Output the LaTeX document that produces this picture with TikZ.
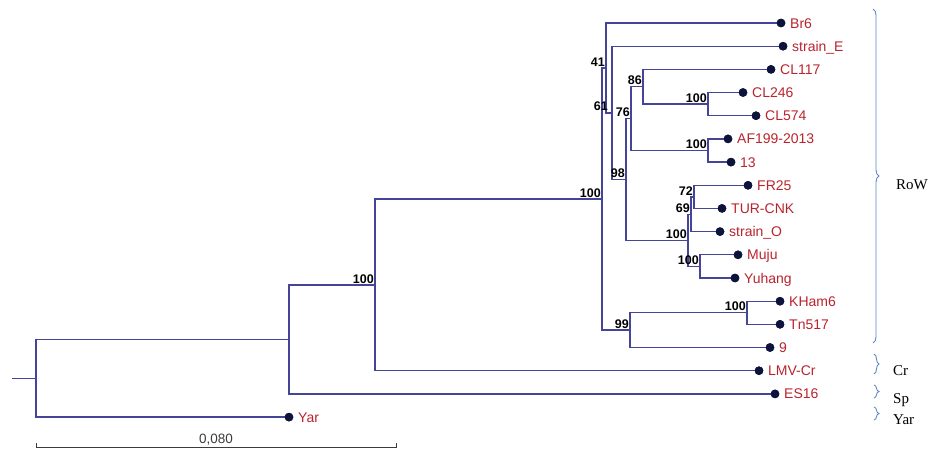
\documentclass[tikz,border=0pt]{standalone}
\usepackage{fontspec}
\setmainfont{Liberation Sans}
\newfontfamily\cladefont{Liberation Serif}
\usetikzlibrary{decorations.pathreplacing}
\definecolor{treeblue}{RGB}{68,68,152}
\definecolor{dotnavy}{RGB}{12,20,60}
\definecolor{tipred}{RGB}{185,35,45}
\definecolor{bracecol}{RGB}{95,135,195}
\definecolor{scalegray}{RGB}{60,60,60}
\begin{document}
\begin{tikzpicture}[x=1pt,y=-1pt,
  branch/.style={draw=treeblue, line width=1.3pt},
  tipdot/.style={circle, fill=dotnavy, inner sep=0pt, minimum size=8.6pt},
  tiplabel/.style={anchor=base west, inner sep=0pt, text=tipred, font=\fontsize{14}{16}\selectfont},
  boot/.style={anchor=south east, inner sep=0pt, text=black, font=\bfseries\fontsize{12.5}{14}\selectfont},
  clade/.style={draw=bracecol, line width=0.9pt, decorate, decoration={brace, amplitude=6pt}},
  cladelabel/.style={anchor=base west, inner sep=0pt, font=\cladefont\fontsize{15}{17}\selectfont}]
\useasboundingbox (0,0) rectangle (931,450);

% tips
\node[tipdot] (Br6)   at (781,23.0) {};
\node[tipdot] (strE)  at (783,46.2) {};
\node[tipdot] (CL117) at (771,69.4) {};
\node[tipdot] (CL246) at (743,92.5) {};
\node[tipdot] (CL574) at (756,115.7) {};
\node[tipdot] (AF199) at (728,138.9) {};
\node[tipdot] (t13)   at (731,162.1) {};
\node[tipdot] (FR25)  at (748,185.3) {};
\node[tipdot] (TUR)   at (722,208.4) {};
\node[tipdot] (strO)  at (720,231.6) {};
\node[tipdot] (Muju)  at (738,254.8) {};
\node[tipdot] (Yuh)   at (735,278.0) {};
\node[tipdot] (KHam)  at (780,301.2) {};
\node[tipdot] (Tn)    at (780,324.3) {};
\node[tipdot] (t9)    at (770,347.5) {};
\node[tipdot] (LMV)   at (759,370.7) {};
\node[tipdot] (ES16)  at (775,393.9) {};
\node[tipdot] (Yar)   at (289,417.1) {};

% internal nodes
\coordinate (Nb)  at (708,104.1);
\coordinate (N86) at (643,86.75);
\coordinate (Nc)  at (708,150.5);
\coordinate (N76) at (631,118.6);
\coordinate (N72) at (694,196.85);
\coordinate (N69) at (691,214.2);
\coordinate (Nd)  at (700,266.4);
\coordinate (Na)  at (688,240.3);
\coordinate (N98) at (626,179.5);
\coordinate (N61) at (612,112.85);
\coordinate (N41) at (606,67.9);
\coordinate (Ne)  at (747,312.75);
\coordinate (N99) at (630,330.1);
\coordinate (N3)  at (602,199.0);
\coordinate (N2)  at (375,284.85);
\coordinate (N1)  at (289,339.4);
\coordinate (R)   at (36,378.25);
\coordinate (stub) at (12,378.25);

% branches
\draw[branch] (stub) -- (R);
\draw[branch] (R) |- (N1);
\draw[branch] (R) |- (Yar);
\draw[branch] (N1) |- (N2);
\draw[branch] (N1) |- (ES16);
\draw[branch] (N2) |- (N3);
\draw[branch] (N2) |- (LMV);
\draw[branch] (N3) |- (N41);
\draw[branch] (N3) |- (N99);
\draw[branch] (N41) |- (Br6);
\draw[branch] (N41) |- (N61);
\draw[branch] (N61) |- (strE);
\draw[branch] (N61) |- (N98);
\draw[branch] (N98) |- (N76);
\draw[branch] (N98) |- (Na);
\draw[branch] (N76) |- (N86);
\draw[branch] (N76) |- (Nc);
\draw[branch] (N86) |- (CL117);
\draw[branch] (N86) |- (Nb);
\draw[branch] (Nb) |- (CL246);
\draw[branch] (Nb) |- (CL574);
\draw[branch] (Nc) |- (AF199);
\draw[branch] (Nc) |- (t13);
\draw[branch] (Na) |- (N69);
\draw[branch] (Na) |- (Nd);
\draw[branch] (N69) |- (N72);
\draw[branch] (N69) |- (strO);
\draw[branch] (N72) |- (FR25);
\draw[branch] (N72) |- (TUR);
\draw[branch] (Nd) |- (Muju);
\draw[branch] (Nd) |- (Yuh);
\draw[branch] (N99) |- (Ne);
\draw[branch] (N99) |- (t9);
\draw[branch] (Ne) |- (KHam);
\draw[branch] (Ne) |- (Tn);

% redraw dots on top
\foreach \t in {Br6,strE,CL117,CL246,CL574,AF199,t13,FR25,TUR,strO,Muju,Yuh,KHam,Tn,t9,LMV,ES16,Yar}
  \fill[dotnavy] (\t.center) circle (4.3pt);

% tip labels
\node[tiplabel] (lBr6)  at ([xshift=9pt,yshift=-5pt]Br6.center) {Br6};
\node[tiplabel] (lstrE) at ([xshift=9pt,yshift=-5pt]strE.center) {strain\_E};
\node[tiplabel] (lCL117) at ([xshift=9pt,yshift=-5pt]CL117.center) {CL117};
\node[tiplabel] (lCL246) at ([xshift=9pt,yshift=-5pt]CL246.center) {CL246};
\node[tiplabel] (lCL574) at ([xshift=9pt,yshift=-5pt]CL574.center) {CL574};
\node[tiplabel] (lAF) at ([xshift=9pt,yshift=-5pt]AF199.center) {AF199-2013};
\node[tiplabel] (l13) at ([xshift=9pt,yshift=-5pt]t13.center) {13};
\node[tiplabel] (lFR) at ([xshift=9pt,yshift=-5pt]FR25.center) {FR25};
\node[tiplabel] (lTUR) at ([xshift=9pt,yshift=-5pt]TUR.center) {TUR-CNK};
\node[tiplabel] (lstrO) at ([xshift=9pt,yshift=-5pt]strO.center) {strain\_O};
\node[tiplabel] (lMuju) at ([xshift=9pt,yshift=-5pt]Muju.center) {Muju};
\node[tiplabel] (lYuh) at ([xshift=9pt,yshift=-5pt]Yuh.center) {Yuhang};
\node[tiplabel] (lKHam) at ([xshift=9pt,yshift=-5pt]KHam.center) {KHam6};
\node[tiplabel] (lTn) at ([xshift=9pt,yshift=-5pt]Tn.center) {Tn517};
\node[tiplabel] (l9) at ([xshift=9pt,yshift=-5pt]t9.center) {9};
\node[tiplabel] (lLMV) at ([xshift=9pt,yshift=-5pt]LMV.center) {LMV-Cr};
\node[tiplabel] (lES) at ([xshift=9pt,yshift=-5pt]ES16.center) {ES16};
\node[tiplabel] (lYar) at ([xshift=9pt,yshift=-5pt]Yar.center) {Yar};

% bootstrap values
\node[boot] (b41) at ([xshift=-1pt,yshift=1.5pt]N41) {41};
\node[boot] (b61) at ([xshift=-4pt,yshift=2pt]N61) {61};
\node[boot] (b98) at ([xshift=-1pt,yshift=1.5pt]N98) {98};
\node[boot] (b76) at ([xshift=-1pt,yshift=1.5pt]N76) {76};
\node[boot] (b86) at ([xshift=-1pt,yshift=1.5pt]N86) {86};
\node[boot] (bb) at ([xshift=-1pt,yshift=1.5pt]Nb) {100};
\node[boot] (bc) at ([xshift=-1pt,yshift=1.5pt]Nc) {100};
\node[boot] (b72) at ([xshift=-1pt,yshift=1.5pt]N72) {72};
\node[boot] (b69) at ([xshift=-1pt,yshift=1.5pt]N69) {69};
\node[boot] (ba) at ([xshift=-1pt,yshift=1.5pt]Na) {100};
\node[boot] (bd) at ([xshift=-1pt,yshift=1.5pt]Nd) {100};
\node[boot] (b99) at ([xshift=-1pt,yshift=1.5pt]N99) {99};
\node[boot] (be) at ([xshift=-1pt,yshift=1.5pt]Ne) {100};
\node[boot] (b3) at ([xshift=-1pt,yshift=1.5pt]N3) {100};
\node[boot] (b2) at ([xshift=-1pt,yshift=1.5pt]N2) {100};

% scale bar
\coordinate (sbL) at (36,447);
\coordinate (sbR) at (396,447);
\draw[scalegray, line width=1pt] ([yshift=4pt]sbL) -- (sbL) -- (sbR) -- ([yshift=4pt]sbR);
\node[anchor=base, inner sep=0pt, text=scalegray, font=\fontsize{13.5}{15}\selectfont] (sblabel) at (216,443.5) {0,080};

% clade braces
\coordinate (rowT) at (873,9);   \coordinate (rowB) at (873,343);
\coordinate (crT) at (874,354);  \coordinate (crB) at (874,374);
\coordinate (spT) at (874,385);  \coordinate (spB) at (874,398);
\coordinate (yaT) at (874,407);  \coordinate (yaB) at (874,420);
\draw[clade] (rowT) -- (rowB);
\draw[clade, decoration={brace, amplitude=5pt}] (crT) -- (crB);
\draw[clade, decoration={brace, amplitude=5pt}] (spT) -- (spB);
\draw[clade, decoration={brace, amplitude=5pt}] (yaT) -- (yaB);
\node[cladelabel] (lRoW) at (896,189.5) {RoW};
\node[cladelabel] (lCr) at (893,375) {Cr};
\node[cladelabel] (lSp) at (893,403) {Sp};
\node[cladelabel] (lYarc) at (893,424.5) {Yar};
\end{tikzpicture}
\end{document}
